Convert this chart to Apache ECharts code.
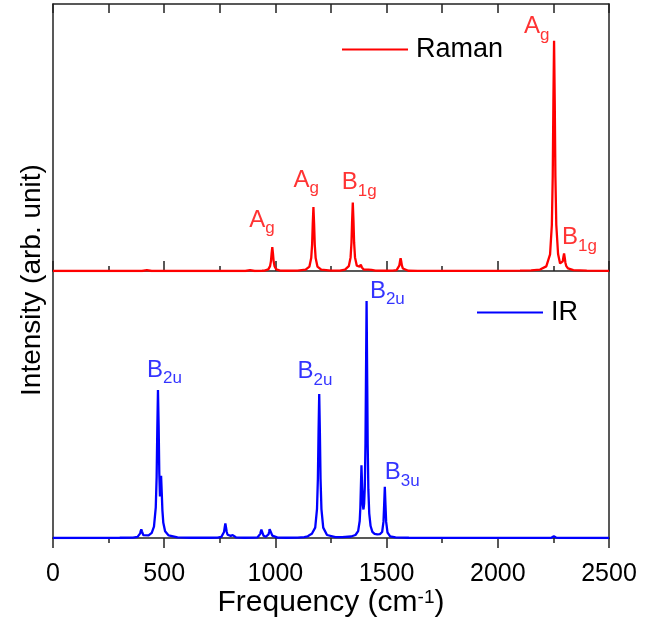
<!DOCTYPE html>
<html>
<head>
<meta charset="utf-8">
<script src="https://cdn.jsdelivr.net/npm/echarts@6/dist/echarts.min.js"></script>
<style>
  html, body { margin: 0; padding: 0; background: #fff; }
  #chart { width: 654px; height: 628px; }
</style>
</head>
<body>
<div id="chart"></div>
<script>
// Simulated Raman and IR spectra (arb. units), frequency in cm^-1
const ramanFreq = [0, 400, 422, 444, 865, 886, 907, 940, 951, 968, 976, 980, 983, 986, 989, 992, 996, 1004, 1021, 1050,
  1100, 1136, 1153, 1161, 1165, 1168, 1171, 1174, 1177, 1181, 1189, 1206, 1250,
  1290, 1313, 1330, 1338, 1342, 1345, 1348, 1351, 1354, 1358, 1366, 1374, 1379, 1384, 1389, 1398, 1418, 1425, 1432, 1450, 1500,
  1528, 1545, 1553, 1557, 1560, 1563, 1566, 1569, 1573, 1581, 1598, 1640, 2000,
  2100, 2150, 2190, 2218, 2235, 2243, 2247, 2250, 2253, 2256, 2259, 2263, 2271, 2280, 2288, 2292, 2295, 2298, 2301, 2304, 2308, 2316, 2340, 2400, 2500];
const ramanInt = [0, 0, 0.4, 0, 0, 0.4, 0, 0.1, 0.2, 0.7, 2.1, 4.3, 7.7, 10.4, 7.7, 4.3, 2.1, 0.7, 0.2, 0.1,
  0.15, 0.56, 1.95, 5.6, 11.4, 20.6, 27.8, 20.6, 11.4, 5.6, 1.95, 0.56, 0.15,
  0.2, 0.6, 2.1, 5.9, 12.2, 22, 29.7, 22, 12.2, 5.9, 2.3, 1.5, 1.85, 2.77, 1.53, 0.58, 0.6, 1.36, 0.5, 0.2, 0.1,
  0.15, 0.4, 1.1, 2.3, 4.1, 5.6, 4.1, 2.3, 1.1, 0.4, 0.11, 0.05, 0.05,
  0.12, 0.24, 0.63, 2.0, 7.2, 20, 41, 74, 100, 74, 41, 20.1, 7.4, 3.3, 3.3, 4.2, 6.1, 7.6, 5.8, 3.6, 2.1, 1.1, 0.42, 0.14, 0.05];

const irFreq = [0, 300, 360, 380, 388, 392, 394, 397, 400, 402, 406, 414, 430, 444, 454, 462, 466, 469, 472, 475, 478, 481, 484, 486, 489, 492, 496, 504, 520, 560, 620,
  700, 740, 757, 765, 769, 772, 775, 778, 781, 785, 793, 799, 802, 805, 808, 812, 822, 860,
  905, 920, 928, 932, 934, 937, 940, 943, 947, 956, 964, 969, 972, 974, 976, 979, 982, 986, 994, 1010, 1050,
  1100, 1130, 1145, 1154, 1159, 1164, 1172, 1179, 1187, 1191, 1194, 1197, 1200, 1203, 1207, 1215, 1232, 1270,
  1300, 1340, 1360, 1372, 1379, 1382, 1384, 1387, 1390, 1393, 1396, 1399, 1402, 1405, 1407, 1410, 1413, 1415, 1418, 1422, 1428, 1436, 1446, 1458, 1470,
  1480, 1486, 1489, 1492, 1495, 1498, 1504, 1516, 1540, 1600, 1800, 2230, 2242, 2252, 2262, 2280, 2500];
const irInt = [0, 0.1, 0.2, 0.5, 1.1, 2.0, 2.9, 3.8, 2.9, 2.1, 1.25, 0.84, 1.1, 2.2, 4.9, 13.2, 26.6, 47.2, 64.3, 49, 28, 18, 24, 27, 19.6, 11.9, 6.6, 2.9, 1.1, 0.3, 0.1,
  0.1, 0.2, 0.5, 1.3, 2.6, 4.6, 6.3, 4.6, 2.7, 1.4, 0.7, 0.9, 1.3, 1.7, 1.25, 0.72, 0.3, 0.1,
  0.15, 0.3, 0.9, 1.8, 2.7, 3.6, 2.7, 1.85, 0.95, 0.5, 0.75, 1.55, 2.7, 3.8, 4.4, 3.2, 2.0, 1.0, 0.35, 0.15, 0.1,
  0.2, 0.4, 0.7, 1.3, 2.0, 1.85, 2.5, 4.5, 12.5, 25.6, 46, 62.5, 46, 25.6, 12.5, 4.5, 1.3, 0.35,
  0.4, 0.65, 1.3, 3.0, 7.4, 13.2, 20.7, 31.6, 22.2, 14.3, 12.4, 14.8, 22.3, 41.2, 66.5, 103, 66.1, 40.5, 21, 10.6, 5.2, 2.7, 1.8, 1.6, 1.7,
  2.6, 7.1, 14.4, 22.2, 14.3, 7.0, 2.4, 0.74, 0.25, 0.1, 0.05, 0.05, 0.2, 0.7, 0.2, 0.05, 0];

// Mode assignments of the labelled peaks
const ramanPeakFreq = [986, 1171, 1348, 2253, 2298];
const ramanPeakInt = [10.4, 27.8, 29.7, 100, 7.6];
const ramanModeMain = ['A', 'A', 'B', 'A', 'B'];
const ramanModeSub = ['g', 'g', '1g', 'g', '1g'];

const irPeakFreq = [472, 1197, 1410, 1492];
const irPeakInt = [64.3, 62.5, 103, 22.2];
const irModeMain = ['B', 'B', 'B', 'B'];
const irModeSub = ['2u', '2u', '2u', '3u'];

// Label placement relative to each peak top: [left edge, baseline] in px
const ramanLabelOffset = [[-23, -18.7], [-20, -18.7], [-11, -11.6], [-30, -5.7], [-2, -7.6]];
const irLabelOffset = [[-11, -11.7], [-21.6, -14], [3.3, -1.4], [0, -6]];

const FONT = '"Liberation Sans", Arial, sans-serif';
const RED = '#ff0000';
const BLUE = '#0000ff';
const AXIS = '#222';
const X_MIN = 0, X_MAX = 2500, X_STEP = 500;
const Y_MAX = 116;

const pairs = (xs, ys) => xs.map((x, i) => [x, ys[i]]);

function modeLabels(freq, inten, main, sub, offs, color, axisIdx) {
  return {
    type: 'scatter',
    xAxisIndex: axisIdx.x,
    yAxisIndex: axisIdx.y,
    symbolSize: 1,
    silent: true,
    z: 5,
    itemStyle: { color: 'rgba(0,0,0,0)' },
    data: freq.map((f, i) => ({
      value: [f, inten[i]],
      label: { offset: [offs[i][0], offs[i][1] - 20.3] }
    })),
    label: {
      show: true,
      position: 'inside',
      align: 'left',
      verticalAlign: 'top',
      formatter: p => `{m|${main[p.dataIndex]}}{s|${sub[p.dataIndex]}}`,
      rich: {
        m: { fontSize: 24, lineHeight: 24, verticalAlign: 'top', color: color, fontFamily: FONT },
        s: { fontSize: 17, lineHeight: 41, color: color, fontFamily: FONT }
      }
    }
  };
}

const frameLine = { show: true, onZero: false, lineStyle: { color: AXIS, width: 1.5 } };

const chart = echarts.init(document.getElementById('chart'), null, { renderer: 'canvas' });
chart.setOption({
  animation: false,
  backgroundColor: '#fff',
  textStyle: { fontFamily: FONT },
  grid: [
    { left: 53, right: 45, top: 4, height: 267 },
    { left: 53, right: 45, top: 271, height: 267 }
  ],
  xAxis: [
    { // divider between the two panels, ticks pointing up into the Raman panel
      gridIndex: 0, type: 'value', position: 'bottom', min: X_MIN, max: X_MAX, interval: X_STEP,
      axisLine: frameLine,
      axisTick: { show: true, inside: true, length: 10, lineStyle: { color: AXIS, width: 1.5 } },
      minorTick: { show: true, splitNumber: 2, length: 5, lineStyle: { color: AXIS, width: 1.5 } },
      axisLabel: { show: false }, splitLine: { show: false }
    },
    { // top frame
      gridIndex: 0, type: 'value', position: 'top', min: X_MIN, max: X_MAX, interval: X_STEP,
      axisLine: frameLine,
      axisTick: { show: true, inside: true, length: 9, lineStyle: { color: AXIS, width: 1.5 } },
      minorTick: { show: true, splitNumber: 2, length: 9, lineStyle: { color: AXIS, width: 1.5 } },
      axisLabel: { show: false }, splitLine: { show: false }
    },
    { // frequency axis
      gridIndex: 1, type: 'value', position: 'bottom', min: X_MIN, max: X_MAX, interval: X_STEP,
      axisLine: frameLine,
      axisTick: { show: true, inside: false, length: 10, lineStyle: { color: AXIS, width: 1.5 } },
      minorTick: { show: true, splitNumber: 2, length: 5, lineStyle: { color: AXIS, width: 1.5 } },
      axisLabel: { show: true, color: '#000', fontSize: 25, fontFamily: FONT, margin: 24,
        formatter: v => String(v) },
      splitLine: { show: false },
      name: '{a|Frequency (cm}{b|-1}{a|)}',
      nameLocation: 'middle',
      nameGap: 50,
      nameTextStyle: {
        rich: {
          a: { fontSize: 30, lineHeight: 30, color: '#000', fontFamily: FONT },
          b: { fontSize: 19, lineHeight: 19, verticalAlign: 'top', color: '#000', fontFamily: FONT }
        }
      }
    }
  ],
  yAxis: [
    { gridIndex: 0, type: 'value', position: 'left', min: 0, max: Y_MAX, axisLine: frameLine,
      axisTick: { show: false }, axisLabel: { show: false }, splitLine: { show: false } },
    { gridIndex: 0, type: 'value', position: 'right', min: 0, max: Y_MAX, axisLine: frameLine,
      axisTick: { show: false }, axisLabel: { show: false }, splitLine: { show: false } },
    { gridIndex: 1, type: 'value', position: 'left', min: 0, max: Y_MAX, axisLine: frameLine,
      axisTick: { show: false }, axisLabel: { show: false }, splitLine: { show: false } },
    { gridIndex: 1, type: 'value', position: 'right', min: 0, max: Y_MAX, axisLine: frameLine,
      axisTick: { show: false }, axisLabel: { show: false }, splitLine: { show: false } }
  ],
  legend: [
    { data: [{ name: 'Raman', icon: 'rect' }], left: 342, top: 36, padding: 0, itemWidth: 66, itemHeight: 2,
      selectedMode: false,
      textStyle: { fontSize: 27, color: '#000', fontFamily: FONT, padding: [0, 0, 0, 3] } },
    { data: [{ name: 'IR', icon: 'rect' }], left: 477, top: 299, padding: 0, itemWidth: 66, itemHeight: 2,
      selectedMode: false,
      textStyle: { fontSize: 27, color: '#000', fontFamily: FONT, padding: [0, 0, 0, 3] } }
  ],
  graphic: [{
    type: 'text',
    x: 32, y: 280,
    rotation: Math.PI / 2,
    style: {
      text: 'Intensity (arb. unit)',
      font: '28px "Liberation Sans", Arial, sans-serif',
      fill: '#000',
      align: 'center',
      verticalAlign: 'middle'
    }
  }],
  series: [
    {
      name: 'Raman', type: 'line', xAxisIndex: 0, yAxisIndex: 0,
      data: pairs(ramanFreq, ramanInt),
      symbol: 'none', smooth: false, z: 3,
      lineStyle: { color: RED, width: 2.3 }, itemStyle: { color: RED }
    },
    {
      name: 'IR', type: 'line', xAxisIndex: 2, yAxisIndex: 2,
      data: pairs(irFreq, irInt),
      symbol: 'none', smooth: false, z: 3,
      lineStyle: { color: BLUE, width: 2.3 }, itemStyle: { color: BLUE }
    },
    modeLabels(ramanPeakFreq, ramanPeakInt, ramanModeMain, ramanModeSub, ramanLabelOffset, RED, { x: 0, y: 0 }),
    modeLabels(irPeakFreq, irPeakInt, irModeMain, irModeSub, irLabelOffset, BLUE, { x: 2, y: 2 })
  ]
});
</script>
</body>
</html>
